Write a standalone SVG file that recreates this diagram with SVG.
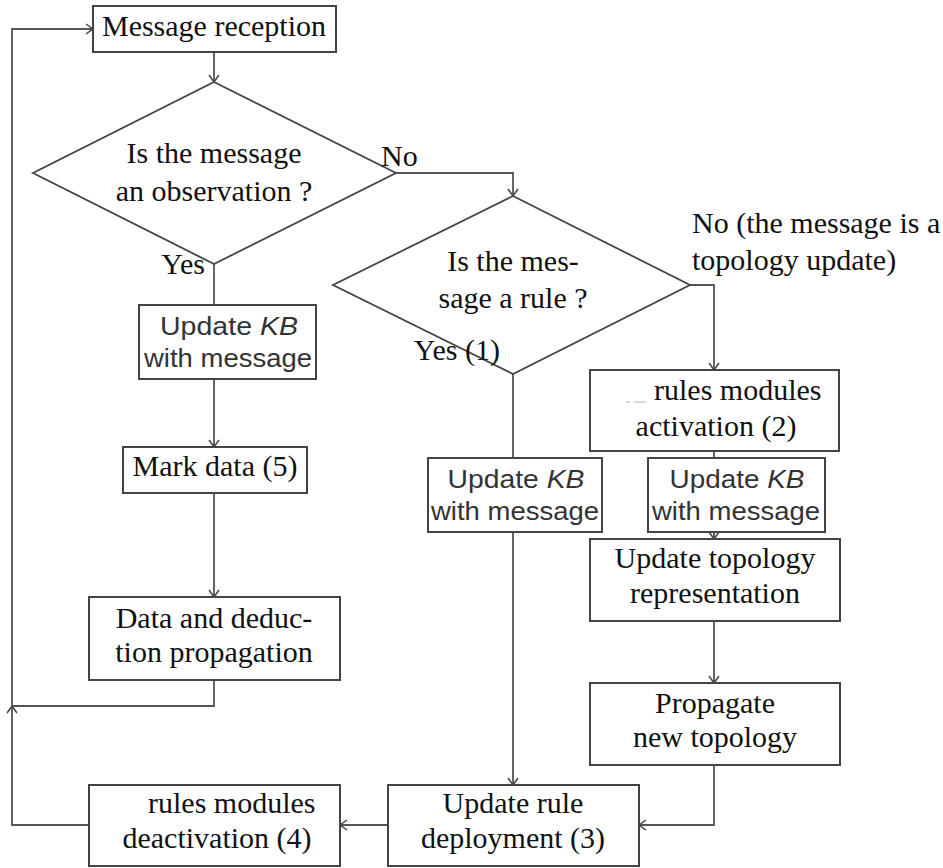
<svg xmlns="http://www.w3.org/2000/svg" width="943" height="868" viewBox="0 0 943 868">
<defs>
<marker id="arr" markerUnits="userSpaceOnUse" markerWidth="16" markerHeight="16" refX="0" refY="0" viewBox="-10 -8 12 16" orient="auto">
<path d="M -7 -5 L 0 0 L -7 5" fill="none" stroke="#444" stroke-width="1.5"/>
</marker>
<style>
.box{fill:#fff;stroke:#444;stroke-width:2}
.dia{fill:#fff;stroke:#444;stroke-width:1.8}
.ln{fill:none;stroke:#555;stroke-width:1.8}
.ar{marker-end:url(#arr)}
.t{font-family:"Liberation Serif","Times New Roman",serif;font-size:30px;fill:#111}
.m{text-anchor:middle}
.s{font-family:"Liberation Sans",Arial,sans-serif;font-size:26px;fill:#333;text-anchor:middle}
</style>
</defs>
<g id="connectors">
<path class="ln ar" d="M 214 52 V 82"/>
<path class="ln ar" d="M 396 173 H 513 V 196"/>
<path class="ln" d="M 214 264 V 305"/>
<path class="ln ar" d="M 214 379 V 447"/>
<path class="ln ar" d="M 214 493 V 597"/>
<path class="ln" d="M 214 680 V 706 H 12"/>
<path class="ln ar" d="M 89 825 H 12 V 706"/>
<path class="ln ar" d="M 12 706 V 29 H 93"/>
<path class="ln ar" d="M 690 285 H 714 V 370"/>
<path class="ln" d="M 513 374 V 458"/>
<path class="ln ar" d="M 513 532 V 785"/>
<path class="ln" d="M 714 451 V 458"/>
<path class="ln ar" d="M 714 532 V 539"/>
<path class="ln ar" d="M 714 621 V 683"/>
<path class="ln ar" d="M 714 765 V 825 H 639"/>
<path class="ln ar" d="M 388 825 H 340"/>
</g>
<g id="n-reception">
<rect class="box" x="93" y="6" width="243" height="46"/>
<text class="t m" x="214" y="36">Message reception</text>
</g>
<g id="n-observation">
<polygon class="dia" points="214,82 396,173 214,264 33,173"/>
<text class="t m" x="214" y="163">Is the message</text>
<text class="t m" x="214" y="201">an observation ?</text>
</g>
<g id="n-rule">
<polygon class="dia" points="513,196 690,285 513,374 333,285"/>
<text class="t m" x="513" y="271">Is the mes-</text>
<text class="t m" x="513" y="308">sage a rule ?</text>
</g>
<g id="labels">
<text class="t" x="381" y="166">No</text>
<text class="t" x="205" y="274" text-anchor="end">Yes</text>
<text class="t" x="500" y="360" text-anchor="end">Yes (1)</text>
<text class="t" x="692" y="233">No (the message is a</text>
<text class="t" x="692" y="270">topology update)</text>
</g>
<g id="n-kb1">
<rect class="box" x="139" y="305" width="177" height="74"/>
<text class="s" x="229" y="335" textLength="138" lengthAdjust="spacingAndGlyphs">Update <tspan font-style="italic">KB</tspan></text>
<text class="s" x="228" y="367" textLength="168" lengthAdjust="spacingAndGlyphs">with message</text>
</g>
<g id="n-mark">
<rect class="box" x="123" y="447" width="184" height="46"/>
<text class="t m" x="215" y="476">Mark data (5)</text>
</g>
<g id="n-propagation">
<rect class="box" x="89" y="597" width="251" height="83"/>
<text class="t m" x="214" y="628">Data and deduc-</text>
<text class="t m" x="214" y="662">tion propagation</text>
</g>
<g id="n-kb2">
<rect class="box" x="428" y="458" width="174" height="74"/>
<text class="s" x="516" y="488" textLength="137" lengthAdjust="spacingAndGlyphs">Update <tspan font-style="italic">KB</tspan></text>
<text class="s" x="515" y="520" textLength="168" lengthAdjust="spacingAndGlyphs">with message</text>
</g>
<g id="n-activation">
<rect class="box" x="590" y="370" width="249" height="81"/>
<path d="M 626 402 H 630 M 634 402 H 646" stroke="#ccd" stroke-width="1.5"/>
<text class="t" x="654" y="400">rules modules</text>
<text class="t m" x="716" y="436">activation (2)</text>
</g>
<g id="n-kb3">
<rect class="box" x="648" y="458" width="177" height="74"/>
<text class="s" x="737" y="488" textLength="135" lengthAdjust="spacingAndGlyphs">Update <tspan font-style="italic">KB</tspan></text>
<text class="s" x="736" y="520" textLength="168" lengthAdjust="spacingAndGlyphs">with message</text>
</g>
<g id="n-topology">
<rect class="box" x="590" y="539" width="250" height="82"/>
<text class="t m" x="715" y="568">Update topology</text>
<text class="t m" x="715" y="603">representation</text>
</g>
<g id="n-propagate">
<rect class="box" x="590" y="683" width="250" height="82"/>
<text class="t m" x="715" y="713">Propagate</text>
<text class="t m" x="715" y="747">new topology</text>
</g>
<g id="n-deployment">
<rect class="box" x="388" y="785" width="251" height="81"/>
<text class="t m" x="513" y="813">Update rule</text>
<text class="t m" x="513" y="848">deployment (3)</text>
</g>
<g id="n-deactivation">
<rect class="box" x="89" y="785" width="251" height="81"/>
<text class="t" x="148" y="813">rules modules</text>
<text class="t m" x="217" y="848">deactivation (4)</text>
</g>
</svg>
